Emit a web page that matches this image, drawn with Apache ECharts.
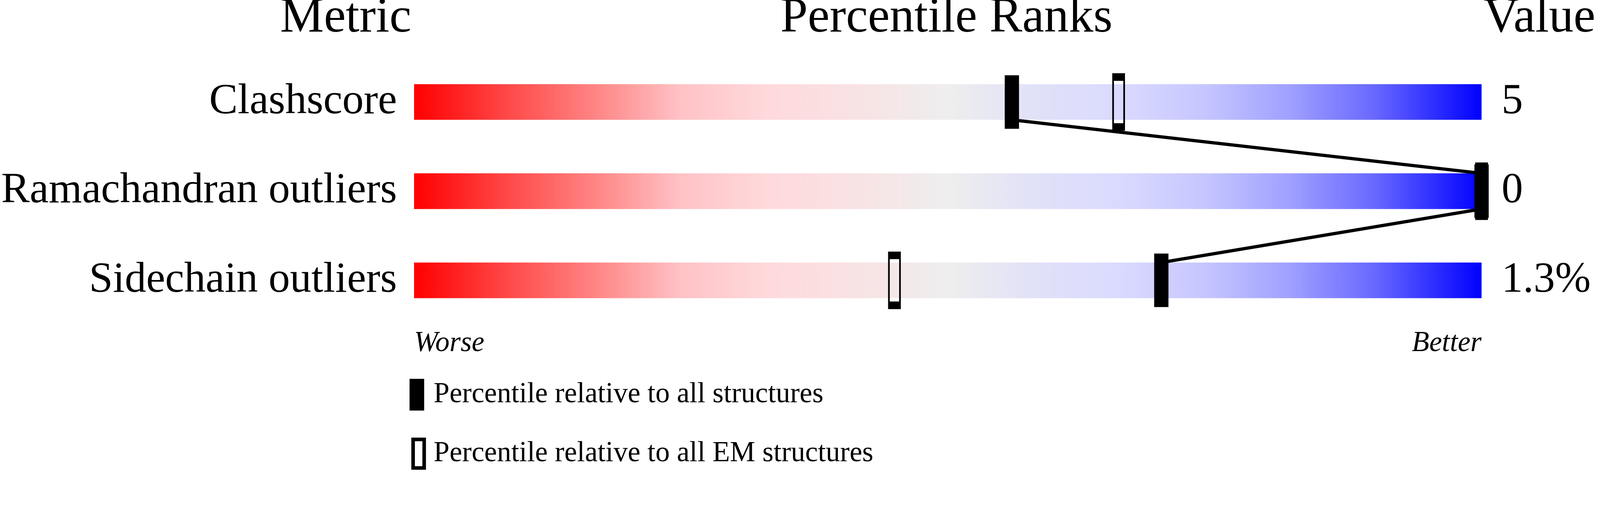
<!DOCTYPE html>
<html>
<head>
<meta charset="utf-8">
<script src="https://cdn.jsdelivr.net/npm/echarts@6/dist/echarts.min.js"></script>
<style>
html,body{margin:0;padding:0;background:#ffffff;overflow:hidden;}
#chart{width:100vw;height:100vh;}
</style>
</head>
<body>
<div id="chart"></div>
<script>
// ---- data ----
const metrics = ['Clashscore', 'Ramachandran outliers', 'Sidechain outliers'];
const valueLabels = ['5', '0', '1.3%'];
const pctAll = [56, 100, 70];      // percentile relative to all structures
const pctEM = [66, 100, 45];       // percentile relative to all EM structures
const scaleMax = [100, 100, 100];  // full-width scale bars
const headers = ['Metric', 'Percentile Ranks', 'Value'];
const scaleEnds = ['Worse', 'Better'];
const legendNames = ['Percentile relative to all structures', 'Percentile relative to all EM structures'];

const FONT = "'Liberation Serif', 'Times New Roman', serif";

// design is laid out on a 4485 x 1311 board and scaled to the actual viewport
const W = window.innerWidth || 4485;
const H = window.innerHeight || 1311;
const S = Math.min(W / 4485, H / 1311);
function p(v) { return v * S; }

const gradient = new echarts.graphic.LinearGradient(0, 0, 1, 0, [
  {offset: 0.00, color: '#FF0000'},
  {offset: 0.09, color: '#FF4A4A'},
  {offset: 0.17, color: '#FF8585'},
  {offset: 0.25, color: '#FFC2C6'},
  {offset: 0.33, color: '#FFD9DC'},
  {offset: 0.42, color: '#F8E3E4'},
  {offset: 0.50, color: '#EEEEEE'},
  {offset: 0.58, color: '#E1E1F8'},
  {offset: 0.66, color: '#DADAFF'},
  {offset: 0.74, color: '#C6C6FF'},
  {offset: 0.82, color: '#A0A0FF'},
  {offset: 0.90, color: '#6868FF'},
  {offset: 1.00, color: '#0000FF'}
]);

const chart = echarts.init(document.getElementById('chart'), null, {renderer: 'canvas'});

const option = {
  backgroundColor: '#ffffff',
  animation: false,
  grid: {left: p(1153), right: W - p(4153), top: p(161), bottom: H - p(911)},
  xAxis: {
    type: 'value', min: 0, max: 100, interval: 100,
    axisLine: {show: false}, axisTick: {show: false}, splitLine: {show: false},
    axisLabel: {
      show: true, margin: p(12),
      fontFamily: FONT, fontStyle: 'italic', fontSize: p(80), color: '#000',
      alignMinLabel: 'left', alignMaxLabel: 'right',
      formatter: function (v) { return v === 0 ? scaleEnds[0] : (v === 100 ? scaleEnds[1] : ''); }
    }
  },
  yAxis: [
    {
      type: 'category', data: metrics, inverse: true,
      axisLine: {show: false}, axisTick: {show: false}, splitLine: {show: false},
      axisLabel: {
        margin: p(48), fontFamily: FONT, fontSize: p(120), color: '#000',
        padding: [p(18), 0, 0, 0]
      }
    },
    {
      type: 'category', data: valueLabels, inverse: true, position: 'right',
      axisLine: {show: false}, axisTick: {show: false}, splitLine: {show: false},
      axisLabel: {margin: p(56), fontFamily: FONT, fontSize: p(120), color: '#000', align: 'left', padding: [p(32), 0, 0, 0]}
    }
  ],
  legend: [
    {
      data: [{name: legendNames[0], icon: 'rect', itemStyle: {color: '#000', borderWidth: 0}}],
      left: p(1148), top: p(1062), itemWidth: p(41), itemHeight: p(89), padding: 0,
      selectedMode: false,
      textStyle: {fontFamily: FONT, fontSize: p(80), color: '#000', padding: [p(24), 0, 0, p(21)]}
    },
    {
      data: [{name: legendNames[1], icon: 'rect', itemStyle: {color: 'rgba(0,0,0,0)', borderColor: '#000', borderWidth: p(10)}}],
      left: p(1153), top: p(1227), itemWidth: p(31), itemHeight: p(80), padding: 0,
      selectedMode: false,
      textStyle: {fontFamily: FONT, fontSize: p(80), color: '#000', padding: [p(24), 0, 0, p(21)]}
    }
  ],
  graphic: [
    {type: 'text', x: p(1153), y: p(52), style: {text: headers[0], align: 'right', verticalAlign: 'middle', font: p(138) + 'px ' + FONT, fill: '#000'}},
    {type: 'text', x: p(2653), y: p(52), style: {text: headers[1], align: 'center', verticalAlign: 'middle', font: p(138) + 'px ' + FONT, fill: '#000'}},
    {type: 'text', x: p(4158), y: p(52), style: {text: headers[2], align: 'left', verticalAlign: 'middle', font: p(138) + 'px ' + FONT, fill: '#000'}}
  ],
  series: [
    {
      name: 'scale', type: 'bar', data: scaleMax, barWidth: p(100), silent: true, z: 1,
      itemStyle: {color: gradient}
    },
    {
      name: 'link', type: 'custom', silent: true, z: 3,
      data: pctAll.map(function (v, i) { return [v, i]; }),
      renderItem: function (params, api) {
        const i = params.dataIndex;
        if (i >= pctAll.length - 1) return null;
        const a = api.coord([pctAll[i], i]);
        const b = api.coord([pctAll[i + 1], i + 1]);
        const half = api.size([0, 1])[1] * 0.2;
        return {
          type: 'line',
          shape: {x1: a[0], y1: a[1] + half, x2: b[0], y2: b[1] - half},
          style: {stroke: '#000', lineWidth: p(9)}
        };
      }
    },
    {
      name: legendNames[1], type: 'scatter', z: 4, symbol: 'rect', symbolSize: [p(31), p(140)],
      data: pctEM.map(function (v, i) { return [v, i]; }),
      itemStyle: {color: 'rgba(0,0,0,0)', borderColor: '#000', borderWidth: p(10), opacity: 1}
    },
    {
      name: legendNames[0], type: 'scatter', z: 5, symbol: 'rect', symbolSize: [p(40), p(150)],
      data: pctAll.map(function (v, i) { return [v, i]; }),
      itemStyle: {color: '#000', opacity: 1}
    }
  ]
};
chart.setOption(option);
window.addEventListener('resize', function () { chart.resize(); });
</script>
</body>
</html>
